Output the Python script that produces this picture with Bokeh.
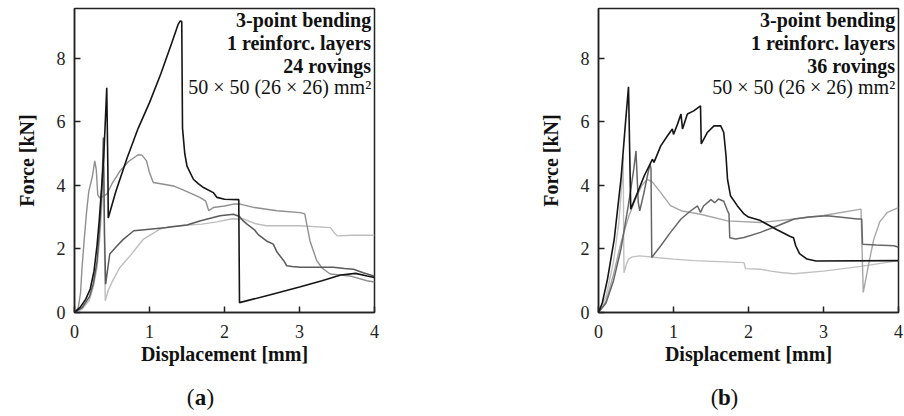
from bokeh.plotting import figure
from bokeh.layouts import row, column
from bokeh.models import Label, Range1d, FixedTicker
from bokeh.core.properties import value
from bokeh.embed import file_html
from bokeh.resources import INLINE

# ---------------- Panel (a): 24 rovings ----------------
a_black_x = [0, 0.075, 0.15, 0.21, 0.26, 0.30, 0.33, 0.36, 0.39, 0.41, 0.43, 0.445, 0.45, 0.55, 0.70, 0.85, 1.00,
             1.15, 1.30, 1.38, 1.41, 1.43, 1.44, 1.47, 1.50, 1.585, 1.65, 1.72, 1.85, 1.90, 2.00, 2.19, 2.20,
             2.60, 3.00, 3.30, 3.55, 3.75, 3.90, 4.00]
a_black_y = [0, 0.16, 0.42, 0.74, 1.3, 2.1, 2.9, 3.88, 4.9, 5.97, 7.07, 4.5, 2.97, 3.8, 4.85, 5.8, 6.6,
             7.5, 8.5, 9.05, 9.17, 9.15, 5.8, 5.0, 4.6, 4.19, 4.05, 3.93, 3.77, 3.62, 3.56, 3.55, 0.31,
             0.55, 0.8, 1.0, 1.18, 1.23, 1.15, 1.1]

a_dark_x = [0, 0.1, 0.2, 0.25, 0.3, 0.34, 0.37, 0.385, 0.40, 0.415, 0.47, 0.55, 0.65, 0.79, 1.0, 1.23,
            1.5, 1.67, 1.94, 2.12, 2.2, 2.25, 2.3, 2.4, 2.45, 2.56, 2.65, 2.70, 2.79, 2.83, 2.9, 3.01,
            3.2, 3.45, 3.6, 3.72, 3.85, 4.0]
a_dark_y = [0, 0.15, 0.5, 0.9, 1.6, 2.8, 4.2, 5.5, 2.5, 0.89, 1.84, 2.05, 2.3, 2.57, 2.62, 2.67,
            2.75, 2.88, 3.04, 3.09, 3.02, 2.88, 2.78, 2.6, 2.45, 2.25, 2.15, 1.9, 1.63, 1.47, 1.45, 1.42,
            1.42, 1.42, 1.38, 1.36, 1.25, 1.14]

a_mid_x = [0, 0.05, 0.08, 0.10, 0.13, 0.16, 0.19, 0.21, 0.24, 0.27, 0.29, 0.31, 0.34, 0.43, 0.50, 0.61,
           0.72, 0.85, 0.90, 0.96, 1.00, 1.05, 1.15, 1.32, 1.50, 1.67, 1.75, 1.79, 1.85, 2.00, 2.12, 2.21,
           2.40, 2.70, 3.01, 3.07, 3.14, 3.23, 3.30, 3.41, 3.67, 3.90, 4.00]
a_mid_y = [0, 0.15, 0.6, 1.4, 2.3, 3.14, 3.8, 4.0, 4.3, 4.77, 4.5, 3.7, 3.6, 3.72, 4.05, 4.46,
           4.75, 4.96, 4.95, 4.77, 4.4, 4.09, 4.05, 3.98, 3.8, 3.62, 3.5, 3.2, 3.3, 3.35, 3.41, 3.41,
           3.3, 3.2, 3.14, 3.1, 2.25, 1.63, 1.4, 1.21, 1.15, 1.0, 0.96]

a_light_x = [0, 0.1, 0.2, 0.25, 0.3, 0.34, 0.37, 0.39, 0.40, 0.41, 0.45, 0.52, 0.60, 0.74, 0.92, 1.14,
             1.26, 1.50, 1.70, 1.90, 2.10, 2.25, 2.40, 2.56, 3.01, 3.41, 3.45, 3.50, 3.70, 4.00]
a_light_y = [0, 0.1, 0.4, 0.8, 1.4, 2.4, 3.6, 4.6, 2.0, 0.37, 0.7, 1.05, 1.4, 1.78, 2.31, 2.62,
             2.7, 2.75, 2.78, 2.85, 2.95, 2.94, 2.8, 2.73, 2.73, 2.67, 2.55, 2.41, 2.43, 2.43]

# ---------------- Panel (b): 36 rovings ----------------
b_black_x = [0, 0.05, 0.12, 0.21, 0.30, 0.36, 0.40, 0.43, 0.52, 0.61, 0.72, 0.74, 0.83, 0.92, 0.985, 1.0,
             1.05, 1.10, 1.12, 1.185, 1.27, 1.36, 1.37, 1.45, 1.54, 1.63, 1.67, 1.70, 1.72, 1.76, 1.85,
             1.94, 2.00, 2.15, 2.38, 2.55, 2.60, 2.63, 2.68, 2.78, 2.90, 4.00]
b_black_y = [0, 0.3, 1.05, 2.31, 4.2, 5.97, 7.1, 3.25, 3.77, 4.3, 4.82, 4.72, 5.24, 5.56, 5.77, 5.6,
             5.9, 6.24, 5.77, 6.24, 6.34, 6.5, 5.3, 5.66, 5.87, 5.87, 5.66, 4.93, 4.19, 3.67, 3.36,
             3.1, 3.0, 2.9, 2.6, 2.4, 2.35, 2.1, 1.85, 1.68, 1.62, 1.63]

b_dark_x = [0, 0.1, 0.2, 0.3, 0.4, 0.47, 0.50, 0.53, 0.55, 0.60, 0.67, 0.69, 0.70, 0.71, 0.83, 0.96,
            1.10, 1.23, 1.32, 1.36, 1.40, 1.50, 1.55, 1.60, 1.67, 1.72, 1.74, 1.75, 1.83, 1.94, 2.16,
            2.39, 2.61, 2.80, 3.05, 3.30, 3.45, 3.51, 3.52, 3.70, 3.94, 4.00]
b_dark_y = [0, 0.3, 1.0, 2.0, 3.4, 4.5, 5.08, 3.46, 3.2, 3.7, 4.5, 4.65, 4.5, 1.73, 2.1, 2.52,
            2.94, 3.2, 3.35, 3.15, 3.35, 3.55, 3.45, 3.57, 3.5, 3.2, 3.1, 2.35, 2.31, 2.36, 2.52,
            2.73, 2.94, 3.0, 3.04, 2.98, 2.94, 2.94, 2.15, 2.12, 2.1, 2.05]

b_mid_x = [0, 0.1, 0.2, 0.3, 0.4, 0.5, 0.58, 0.65, 0.72, 0.83, 0.96, 1.10, 1.36, 1.72, 2.16, 2.61,
           3.00, 3.50, 3.53, 3.60, 3.67, 3.75, 3.85, 4.00]
b_mid_y = [0, 0.35, 1.2, 2.2, 3.0, 3.6, 4.0, 4.19, 4.1, 3.77, 3.36, 3.2, 3.09, 2.88, 2.83, 2.94,
           3.05, 3.25, 0.63, 1.5, 2.3, 2.85, 3.15, 3.3]

b_light_x = [0, 0.1, 0.2, 0.27, 0.31, 0.33, 0.335, 0.34, 0.37, 0.40, 0.45, 0.55, 0.80, 1.00, 1.27,
             1.60, 1.94, 1.96, 2.16, 2.30, 2.43, 2.60, 3.00, 3.50, 4.00]
b_light_y = [0, 0.5, 1.6, 2.8, 4.0, 4.9, 2.5, 1.25, 1.5, 1.68, 1.75, 1.78, 1.72, 1.68, 1.63,
             1.6, 1.57, 1.38, 1.36, 1.3, 1.26, 1.22, 1.3, 1.45, 1.63]

x_ticks = [0, 1, 2, 3, 4]
y_ticks = [0, 2, 4, 6, 8]
lines_a = ["3-point bending", "1 reinforc. layers", "24 rovings", "50 × 50 (26 × 26) mm²"]
lines_b = ["3-point bending", "1 reinforc. layers", "36 rovings", "50 × 50 (26 × 26) mm²"]

SERIF = "Liberation Serif"


def make_panel(curves, lines, left, right):
    p = figure(frame_width=300, frame_height=304,
               x_range=Range1d(0, 4), y_range=Range1d(0, 9.56),
               output_backend="svg", toolbar_location=None,
               min_border_left=left, min_border_right=right,
               min_border_top=8, min_border_bottom=64)
    p.xgrid.visible = False
    p.ygrid.visible = False
    p.outline_line_color = "#222222"
    p.outline_line_width = 1.5
    p.background_fill_color = "white"
    p.border_fill_color = "white"

    for xs, ys, col, w in curves:
        p.line(xs, ys, line_color=col, line_width=w)

    for ax in (p.xaxis[0], p.yaxis[0]):
        ax.axis_line_color = "#222222"
        ax.axis_line_width = 1.5
        ax.major_tick_in = 6
        ax.major_tick_out = 0
        ax.major_tick_line_color = "#222222"
        ax.major_tick_line_width = 1.5
        ax.minor_tick_line_color = None
        ax.major_label_text_font = SERIF
        ax.major_label_text_font_size = "18px"
        ax.major_label_text_color = "#222222"
        ax.axis_label_text_font = SERIF
        ax.axis_label_text_font_size = "20px"
        ax.axis_label_text_font_style = "bold"
        ax.axis_label_text_color = "#111111"

    p.xaxis.ticker = FixedTicker(ticks=x_ticks)
    p.yaxis.ticker = FixedTicker(ticks=y_ticks)
    p.xaxis.axis_label = "Displacement [mm]"
    p.yaxis.axis_label = "Force [kN]"
    p.xaxis.major_label_standoff = 12
    p.yaxis.major_label_standoff = 9
    p.xaxis.axis_label_standoff = 2
    p.yaxis.axis_label_standoff = 16

    ys_txt = [9.20, 8.48, 7.76, 7.08]
    for i, t in enumerate(lines):
        p.add_layout(Label(x=3.955, y=ys_txt[i], text=t, text_align="right",
                           text_baseline="alphabetic", text_font=SERIF,
                           text_font_size="20px",
                           text_font_style="bold" if i < 3 else "normal",
                           text_color="#111111"))
    return p


def make_caption(letter, cx):
    c = figure(frame_width=452, frame_height=40,
               x_range=Range1d(0, 452), y_range=Range1d(0, 40),
               output_backend="svg", toolbar_location=None,
               min_border=0, outline_line_color=None)
    c.axis.visible = False
    c.grid.visible = False
    half = 6
    cy = 19
    c.text(x=[cx - half], y=[cy], text=["("], text_align="right", text_baseline="middle",
           text_font=value(SERIF), text_font_size="23px", text_color="#111111")
    c.text(x=[cx], y=[cy], text=[letter], text_align="center", text_baseline="middle",
           text_font=value(SERIF), text_font_size="23px", text_font_style="bold",
           text_color="#111111")
    c.text(x=[cx + half], y=[cy], text=[")"], text_align="left", text_baseline="middle",
           text_font=value(SERIF), text_font_size="23px", text_color="#111111")
    return c


pa = make_panel([
    (a_light_x, a_light_y, "#bdbdbd", 1.4),
    (a_mid_x, a_mid_y, "#8f8f8f", 1.4),
    (a_dark_x, a_dark_y, "#5a5a5a", 1.5),
    (a_black_x, a_black_y, "#151515", 1.6),
], lines_a, 74, 78)

pb = make_panel([
    (b_light_x, b_light_y, "#c0c0c0", 1.4),
    (b_mid_x, b_mid_y, "#a6a6a6", 1.4),
    (b_dark_x, b_dark_y, "#666666", 1.5),
    (b_black_x, b_black_y, "#151515", 1.6),
], lines_b, 146, 6)

ca = make_caption("a", 200)
cb = make_caption("b", 272)

layout = column(row(pa, pb), row(ca, cb))
open("out.html", "w").write(file_html(layout, INLINE))
